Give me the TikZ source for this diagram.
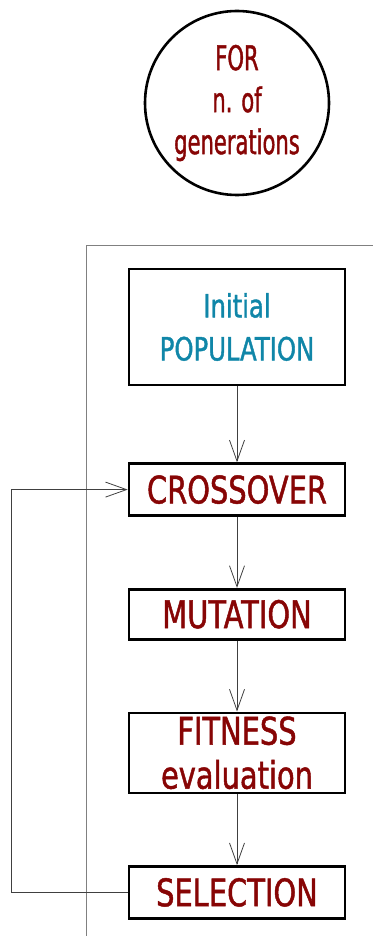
\documentclass[tikz,border=0pt]{standalone}
\usepackage{fontspec}
\newfontfamily\dinfont[FakeStretch=0.76, FakeBold=1.2]{DejaVu Sans}
\newfontfamily\dinnarrow[FakeStretch=0.62, FakeBold=1.2]{DejaVu Sans}
\usetikzlibrary{shapes.geometric, arrows.meta, positioning}
\usepackage{xcolor}
\definecolor{gared}{RGB}{135,5,5}
\definecolor{gablue}{RGB}{16,134,168}
\definecolor{galine}{RGB}{64,64,64}

\begin{document}
\begin{tikzpicture}[x=1pt, y=-1pt, node distance=71pt]

  % styles
  \tikzstyle{loopcirc} = [circle, draw=black, line width=2.6pt, minimum size=184pt, inner sep=0pt, align=center, text=gared, font=\dinnarrow\fontsize{34}{42}\selectfont]
  \tikzstyle{process} = [rectangle, draw=black, line width=2.6pt, minimum width=216pt, minimum height=52pt, inner sep=0pt, align=center, text=gared, font=\dinfont\fontsize{38}{44}\selectfont]
  \tikzstyle{arrow} = [galine, line width=0.8pt, -{Straight Barb[length=21pt, width=15pt, line width=0.8pt]}]

  \useasboundingbox (0,0) rectangle (373,936);

  % loop header
  \node (loop) [loopcirc] at (237,103) {FOR\\n. of\\generations};

  % loop body frame
  \draw [gray, line width=0.8pt] (86,936) -- (86,245) -- (373,245);

  % steps
  \node (init) [process, minimum height=116pt, text=gablue, font=\dinfont\fontsize{32}{43}\selectfont] at (237,327) {Initial\\POPULATION};
  \node (cross) [process, below=76pt of init] {CROSSOVER};
  \node (mut) [process, minimum height=50pt, below=of cross] {MUTATION};
  \node (fit) [process, minimum height=80pt, below=of mut] {FITNESS\\evaluation};
  \node (sel) [process, below=of fit] {SELECTION};

  % arrows
  \draw [arrow] (init) -- (cross);
  \draw [arrow] (cross) -- (mut);
  \draw [arrow] (mut) -- (fit);
  \draw [arrow] (fit) -- (sel);
  \draw [arrow] (sel.west) -- ++(-116,0) |- (cross.west);

\end{tikzpicture}
\end{document}
